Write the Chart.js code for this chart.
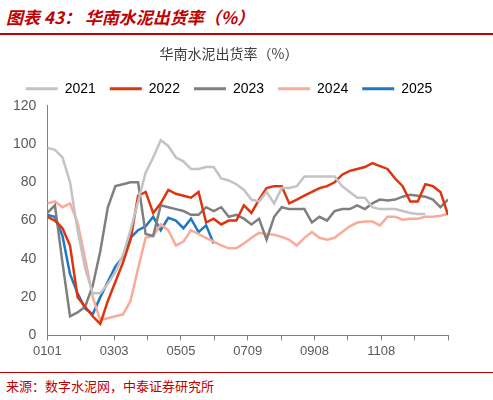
<!DOCTYPE html>
<html><head><meta charset="utf-8">
<script src="https://cdn.jsdelivr.net/npm/chart.js@4/dist/chart.umd.min.js"></script>
<style>
body{margin:0;width:493px;height:400px;background:#fff;font-family:"Noto Sans CJK SC",sans-serif;position:relative;overflow:hidden}
#hd{position:absolute;left:6px;top:4px;color:#c00000;font-size:17px;font-style:italic;font-weight:bold}
#l1{position:absolute;left:0;top:33px;width:493px;height:2px;background:#c00000}
#l2{position:absolute;left:0;top:372px;width:493px;height:1px;background:#c00000}
#src{position:absolute;left:6px;top:376px;font-size:13px;color:#c00000}
#wrap{position:absolute;left:0;top:39px;width:493px;height:323px}
</style></head><body>
<div id="hd">图表 43： 华南水泥出货率（%）</div><div id="l1"></div>
<div id="wrap"><canvas id="c"></canvas></div>
<div id="l2"></div><div id="src">来源：数字水泥网，中泰证券研究所</div>
<script>
const tickLabels=["0101","","0303","","0505","","0709","","0908","","1108","",""];
const years=["2021","2022","2023","2024","2025"];
const s2021=[98,97,93,80,55,35,22,22,27,33,42,55,70,85,93,102,99,93,91,87,87,88,88,82,81,79,76,71,70,75,69,77,77,78,83,83,83,83,83,78,75,72,72,67,66,66,66,65,64,63.5,63.5,null,null,null];
const s2022=[62,60,56,47,20,15,10,6,18,28,38,50,73,75,64,69,76,74,73,72,75,59,61,58,60,60,68,64,71,77,78,78,69,71,73,75,77,78,80,84,86,87,88,90,88.5,87,82,78,70,70,79,78,75,63];
const s2023=[64,68,38,10,12,15,26,44,67,78,79,80,80,53,52,68,67,66,65,63,63,67,65,67,62,63,61,58,61,50,62,67,66,66,66,59,62,60,65,66,66,68,66,69,71,70.5,71,72.5,73.5,73,72.5,71,67,71];
const s2024=[69,70,67,69,59,40,20,8,9,10,11,18,35,51,52,58,55,47,49,55,53,51,49,47,45.5,45.6,48,51,53.6,53,52.6,51.5,50,47,51,54,51,50,51,54,57,59,59.5,59.5,57.5,62,62,60.5,61,61,62,62,62.5,63.5];
const s2025=[63,62,52,32,22,14,11,20,28,36,41,51,55,57,62,55,61.5,60,56,61,54,57.5,48];
const allS=[s2021,s2022,s2023,s2024,s2025];
const colors=["#c3c3c3","#e0340e","#7f7f7f","#f8ab9a","#1f78c4"];
const N=53;
const datasets=allS.map((s,k)=>({label:years[k],data:s.map((v,i)=>({x:i*12/N,y:v})),borderColor:colors[k],backgroundColor:colors[k],borderWidth:2.5,pointRadius:0,tension:0,spanGaps:false}));
new Chart(document.getElementById('c'),{type:'line',data:{datasets},options:{
animation:false,responsive:true,maintainAspectRatio:false,
layout:{padding:{left:10,right:45,top:0,bottom:0}},
plugins:{title:{display:true,text:'华南水泥出货率（%）',color:'#404040',font:{size:14,weight:'normal',family:'"Noto Sans CJK SC"'},padding:{top:6,bottom:6}},
legend:{position:'top',labels:{boxWidth:32,boxHeight:0,color:'#595959',font:{size:14,family:'Liberation Sans'},padding:14,
generateLabels:(ch)=>ch.data.datasets.map((d,i)=>({text:d.label,strokeStyle:d.borderColor,fillStyle:d.borderColor,lineWidth:3,datasetIndex:i}))}},tooltip:{enabled:false}},
scales:{x:{type:'linear',min:0,max:12,border:{color:'#808080'},grid:{drawOnChartArea:false,tickLength:5,color:'#808080'},
ticks:{stepSize:1,autoSkip:false,maxRotation:0,color:'#595959',font:{size:13,family:'Liberation Sans'},callback:(v)=>tickLabels[Math.round(v)]||''}},
y:{min:0,max:120,border:{color:'#808080'},grid:{display:false},ticks:{stepSize:20,color:'#595959',font:{size:14,family:'Liberation Sans'}}}}
}});
</script></body></html>
